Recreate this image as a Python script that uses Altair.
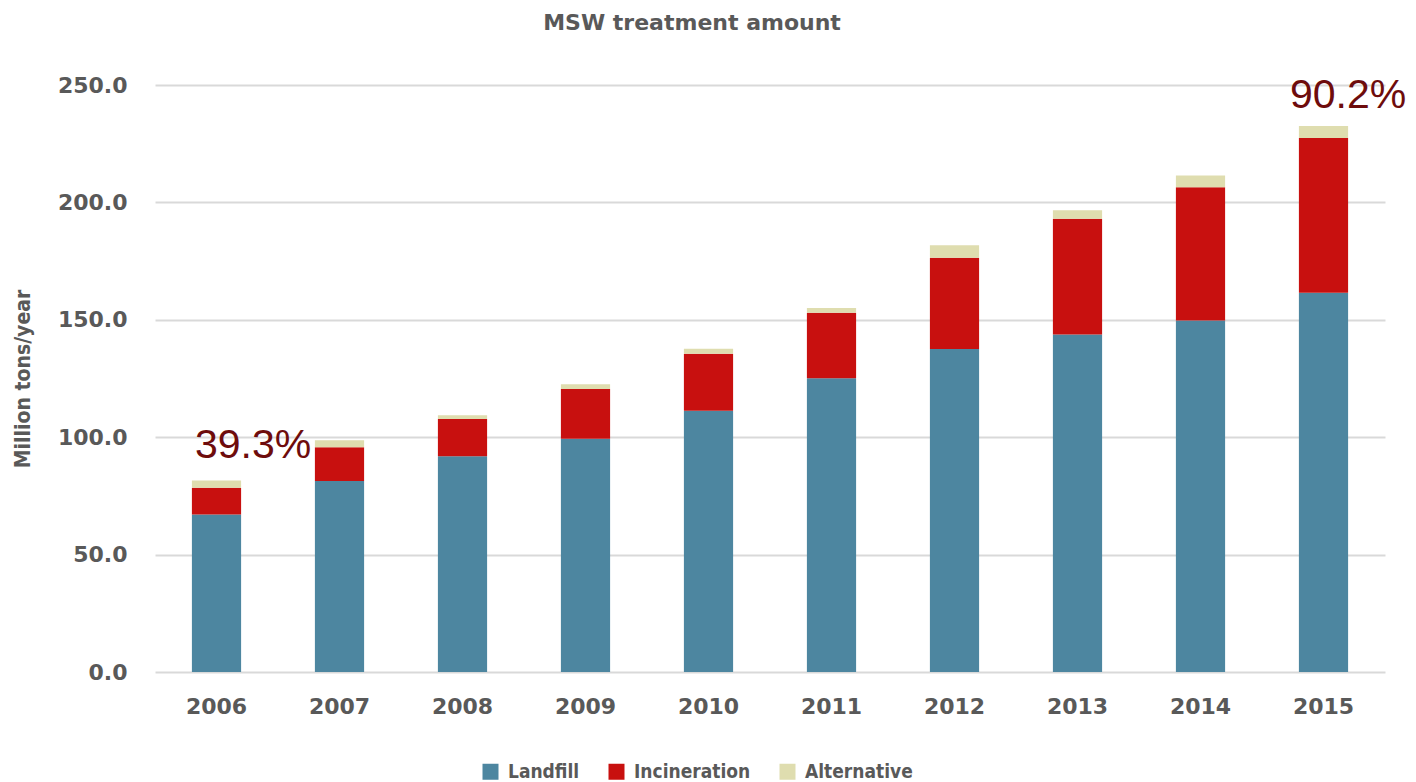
import altair as alt
import pandas as pd

# MSW treatment volumes, million tons per year
years = ["2006", "2007", "2008", "2009", "2010", "2011", "2012", "2013", "2014", "2015"]
landfill = [67.1, 81.3, 91.9, 99.3, 111.3, 125.1, 137.6, 143.7, 149.7, 161.5]
incineration = [11.4, 14.4, 15.8, 21.2, 24.2, 27.9, 38.8, 49.3, 56.7, 65.9]
alternative = [3.1, 3.0, 1.7, 2.0, 2.2, 2.0, 5.3, 3.7, 5.1, 5.1]

methods = ["Landfill", "Incineration", "Alternative"]
method_colors = ["#4D86A0", "#C8100F", "#DFDDAF"]

# growth annotations placed above the first and last bars
note_years = ["2006", "2015"]
note_texts = ["39.3%", "90.2%"]

rows = []
for i, y in enumerate(years):
    for k, (m, vals) in enumerate(zip(methods, [landfill, incineration, alternative])):
        rows.append({"year": y, "method": m, "amount": vals[i], "rank": k})
df = pd.DataFrame(rows)

totals = {y: landfill[i] + incineration[i] + alternative[i] for i, y in enumerate(years)}
notes = pd.DataFrame({
    "year": note_years,
    "label": note_texts,
    "total": [totals[y] for y in note_years],
})

GRAY = "#595959"
NOTE_RED = "#6E0C0C"

x_enc = alt.X(
    "year:N",
    sort=years,
    scale=alt.Scale(paddingInner=0.6, paddingOuter=0.3),
    axis=alt.Axis(
        title=None,
        labelAngle=0,
        domain=False,
        ticks=False,
        labelPadding=24,
        labelFont="DejaVu Sans",
        labelFontWeight="bold",
        labelFontSize=22,
        labelColor=GRAY,
    ),
)

bars = alt.Chart(df).mark_bar().encode(
    x=x_enc,
    y=alt.Y(
        "amount:Q",
        stack="zero",
        scale=alt.Scale(domain=[0, 250], nice=False),
        axis=alt.Axis(
            title="Million tons/year",
            values=[0, 50, 100, 150, 200, 250],
            format=".1f",
            domain=False,
            ticks=False,
            labelPadding=28,
            labelFont="DejaVu Sans",
            labelFontWeight="bold",
            labelFontSize=22,
            labelColor=GRAY,
            gridColor="#D9D9D9",
            gridWidth=2,
            titleFont="DejaVu Sans Condensed, Liberation Sans Narrow, sans-serif",
            titleFontWeight="bold",
            titleFontSize=21,
            titleColor=GRAY,
            titlePadding=24,
        ),
    ),
    color=alt.Color(
        "method:N",
        scale=alt.Scale(domain=methods, range=method_colors),
        legend=alt.Legend(
            title=None,
            orient="none",
            direction="horizontal",
            legendX=326,
            legendY=677,
            symbolType="square",
            symbolSize=256,
            symbolStrokeWidth=0,
            symbolOpacity=1,
            labelOffset=8,
            columnPadding=27,
            labelFont="DejaVu Sans Condensed, Liberation Sans Narrow, sans-serif",
            labelFontWeight="bold",
            labelFontSize=19,
            labelColor=GRAY,
            padding=0,
        ),
    ),
    order=alt.Order("rank:Q", sort="ascending"),
)

note_style = dict(
    align="left",
    baseline="alphabetic",
    font="Liberation Sans",
    fontSize=41,
    color=NOTE_RED,
)

note_first = alt.Chart(notes[notes["year"] == "2006"]).mark_text(
    dx=-21.5, dy=-22.4, **note_style
).encode(x=alt.X("year:N", sort=years), y="total:Q", text="label:N")

note_last = alt.Chart(notes[notes["year"] == "2015"]).mark_text(
    dx=-33.5, dy=-18, **note_style
).encode(x=alt.X("year:N", sort=years), y="total:Q", text="label:N")

chart = (
    alt.layer(bars, note_first, note_last)
    .properties(
        width=1230,
        height=587,
        background="white",
        autosize=alt.AutoSizeParams(type="none"),
        padding={"left": 155, "top": 85, "right": 31, "bottom": 110},
        title=alt.TitleParams(
            "MSW treatment amount",
            anchor="middle",
            dx=-78,
            offset=22,
            baseline="alphabetic",
            font="DejaVu Sans",
            fontSize=22,
            fontWeight="bold",
            color=GRAY,
        ),
    )
    .configure_view(strokeWidth=0, stroke="transparent")
)

chart.save("out.html", embed_options={"renderer": "svg", "actions": False})
